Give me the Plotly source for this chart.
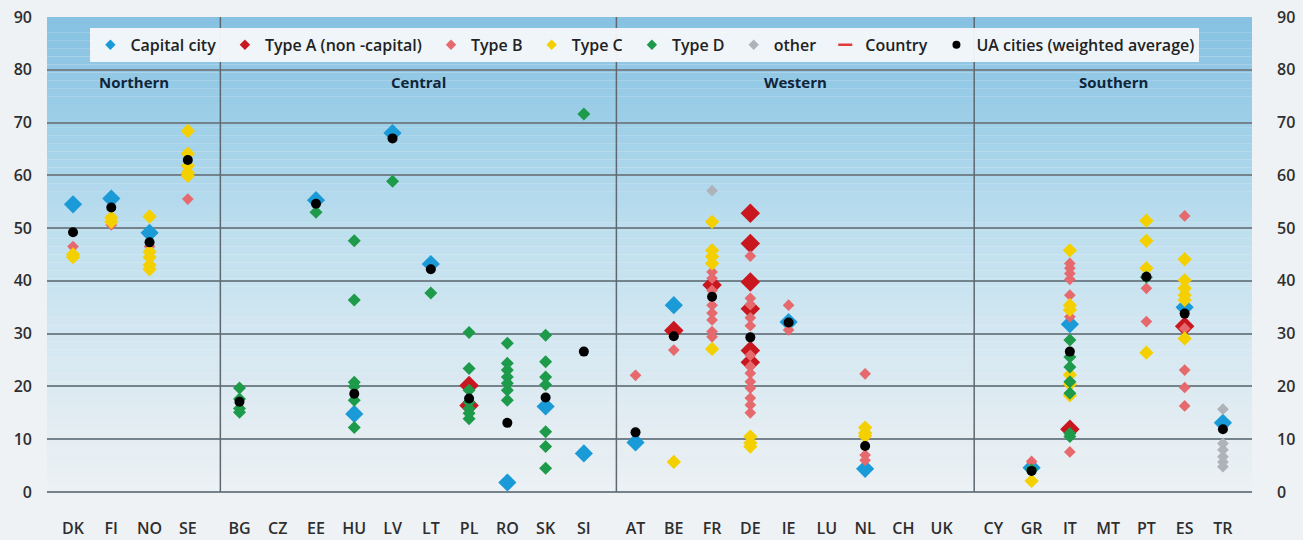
import plotly.graph_objects as go

# ---------------- data ----------------
northern = ["DK", "FI", "NO", "SE"]
central = ["BG", "CZ", "EE", "HU", "LV", "LT", "PL", "RO", "SK", "SI"]
western = ["AT", "BE", "FR", "DE", "IE", "LU", "NL", "CH", "UK"]
southern = ["CY", "GR", "IT", "MT", "PT", "ES", "TR"]
group_names = ["Northern", "Central", "Western", "Southern"]

capital_countries = ["DK", "FI", "NO", "EE", "HU", "LV", "LT", "RO", "SK", "SI",
                     "AT", "BE", "IE", "NL", "GR", "IT", "ES", "TR"]
capital_values = [54.5, 55.6, 49.1, 55.3, 14.8, 68.0, 43.2, 1.8, 16.2, 7.3,
                  9.4, 35.4, 32.2, 4.4, 4.6, 31.8, 35.0, 13.1]

typeA_countries = ["PL", "PL", "BE", "FR", "DE", "DE", "DE", "DE", "DE", "DE", "IT", "ES"]
typeA_values = [20.2, 16.4, 30.6, 39.2, 52.8, 47.1, 39.8, 34.7, 26.8, 24.6, 11.9, 31.4]

typeB_countries = ["DK", "FI", "NO", "SE", "AT", "BE",
                   "FR", "FR", "FR", "FR", "FR", "FR", "FR", "FR",
                   "DE", "DE", "DE", "DE", "DE", "DE", "DE", "DE", "DE", "DE", "DE", "DE", "DE",
                   "IE", "IE", "NL", "NL", "NL", "GR",
                   "IT", "IT", "IT", "IT", "IT", "IT", "IT",
                   "PT", "PT", "ES", "ES", "ES", "ES", "ES"]
typeB_values = [46.5, 50.6, 46.5, 55.5, 22.1, 26.9,
                41.7, 40.5, 38.2, 35.4, 33.9, 32.6, 30.4, 29.4,
                44.7, 36.7, 35.5, 33.0, 31.5, 25.9, 23.8, 22.5, 20.9, 19.7, 17.8, 16.5, 15.0,
                35.4, 30.7, 22.4, 7.0, 6.0, 5.8,
                43.3, 42.4, 41.4, 40.3, 37.3, 33.2, 7.6,
                38.6, 32.3, 52.3, 31.0, 23.1, 19.8, 16.3]

typeC_countries = ["DK", "DK", "FI", "FI", "NO", "NO", "NO", "NO", "NO",
                   "SE", "SE", "SE", "SE", "SE", "BE",
                   "FR", "FR", "FR", "FR", "FR", "DE", "DE", "DE",
                   "NL", "NL", "NL", "GR",
                   "IT", "IT", "IT", "IT", "IT", "IT",
                   "PT", "PT", "PT", "PT",
                   "ES", "ES", "ES", "ES", "ES", "ES"]
typeC_values = [44.5, 45.0, 52.0, 51.2, 52.2, 45.5, 44.5, 43.0, 42.2,
                68.4, 64.1, 61.8, 60.5, 59.9, 5.7,
                51.2, 45.8, 44.6, 43.3, 27.1, 10.5, 9.3, 8.6,
                12.2, 11.2, 10.6, 2.1,
                45.8, 35.4, 34.5, 22.2, 20.4, 18.3,
                51.4, 47.6, 42.4, 26.4,
                44.1, 40.1, 38.6, 37.3, 36.4, 29.1]

typeD_countries = ["BG", "BG", "BG", "BG", "EE",
                   "HU", "HU", "HU", "HU", "HU", "HU", "LV", "LT",
                   "PL", "PL", "PL", "PL", "PL", "PL", "PL",
                   "RO", "RO", "RO", "RO", "RO", "RO", "RO",
                   "SK", "SK", "SK", "SK", "SK", "SK", "SK", "SI", "GR",
                   "IT", "IT", "IT", "IT", "IT", "IT", "IT", "PT"]
typeD_values = [19.7, 17.6, 15.8, 15.1, 53.0,
                47.6, 36.4, 20.8, 20.0, 17.4, 12.2, 58.9, 37.7,
                30.2, 23.4, 19.3, 17.0, 15.8, 14.9, 13.9,
                28.2, 24.4, 23.1, 21.8, 20.6, 19.3, 17.4,
                29.7, 24.7, 21.8, 20.3, 11.4, 8.6, 4.5, 71.6, 4.2,
                28.8, 25.6, 23.7, 20.9, 18.7, 11.1, 10.5, 40.7]

other_countries = ["FR", "TR", "TR", "TR", "TR", "TR", "TR"]
other_values = [57.1, 15.7, 9.2, 8.0, 6.7, 5.7, 4.8]

ua_countries = ["DK", "FI", "NO", "SE", "BG", "EE", "HU", "LV", "LT", "PL", "RO", "SK",
                "SI", "AT", "BE", "FR", "DE", "IE", "NL", "GR", "IT", "PT", "ES", "TR"]
ua_values = [49.2, 53.9, 47.3, 62.9, 17.1, 54.6, 18.6, 67.0, 42.2, 17.7, 13.1, 17.9,
             26.6, 11.3, 29.5, 37.0, 29.3, 32.1, 8.7, 4.0, 26.6, 40.8, 33.8, 11.9]

y_ticks = [0, 10, 20, 30, 40, 50, 60, 70, 80, 90]

# ---------------- x layout (category index + gap between regions) ----------------
groups = [northern, central, western, southern]
GAP = 0.35
xpos = {}
group_first = []
i = 0
for g, grp in enumerate(groups):
    for j, c in enumerate(grp):
        xpos[c] = i + GAP * g
        if j == 0:
            group_first.append(xpos[c])
        i += 1
all_countries = [c for grp in groups for c in grp]
x_min = -0.68
x_max = xpos["TR"] + 0.76

def X(cs):
    return [xpos[c] for c in cs]

# ---------------- figure ----------------
FONT = "Open Sans"
BG = "#eef2f5"
fig = go.Figure()

# gradient plot background (strips)
anchors = [(0, (236, 241, 244)), (10, (229, 237, 242)), (30, (211, 231, 241)),
           (50, (189, 222, 238)), (70, (158, 207, 232)), (90, (134, 194, 226))]

def col_at(v):
    for (a, ca), (b, cb) in zip(anchors[:-1], anchors[1:]):
        if a <= v <= b:
            t = (v - a) / (b - a)
            return "rgb(%d,%d,%d)" % tuple(round(ca[k] + t * (cb[k] - ca[k])) for k in range(3))
    return "rgb(%d,%d,%d)" % anchors[-1][1]

shapes = []
step = 1.5
v = 0.0
while v < 90 - 1e-9:
    shapes.append(dict(type="rect", xref="paper", yref="y", x0=0, x1=1, y0=v, y1=min(v + step, 90),
                       fillcolor=col_at(v + step / 2), line=dict(width=0), layer="below"))
    v += step

# region separators
for g in range(1, 4):
    sx = group_first[g] - 0.5
    shapes.append(dict(type="line", xref="x", yref="y", x0=sx, x1=sx, y0=0, y1=90,
                       line=dict(color="#5d6870", width=1.5), layer="above"))

series = [
    ("Capital city", capital_countries, capital_values, "#1b9ad8", "diamond", 14),
    ("Type A (non -capital)", typeA_countries, typeA_values, "#c8171e", "diamond", 15),
    ("Type B", typeB_countries, typeB_values, "#e5696d", "diamond", 9),
    ("Type C", typeC_countries, typeC_values, "#f4d000", "diamond", 11),
    ("Type D", typeD_countries, typeD_values, "#1e9a4b", "diamond", 10),
    ("other", other_countries, other_values, "#adb3b8", "diamond", 9),
]

for name, cs, vs, color, sym, size in series:
    fig.add_trace(go.Scatter(x=X(cs), y=vs, mode="markers", name=name, showlegend=False,
                             marker=dict(color=color, symbol=sym, size=size, line=dict(width=0)),
                             hoverinfo="skip"))

fig.add_trace(go.Scatter(x=X(ua_countries), y=ua_values, mode="markers", showlegend=False,
                         name="UA cities (weighted average)", hoverinfo="skip",
                         marker=dict(color="#000000", symbol="circle", size=10)))

PAD = "\u00a0"
# legend-only entries (small symbols)
for name, cs, vs, color, sym, size in series:
    fig.add_trace(go.Scatter(x=[None], y=[None], mode="markers", name=name + PAD,
                             marker=dict(color=color, symbol=sym, size=8)))
fig.add_trace(go.Scatter(x=[None], y=[None], mode="markers", name="Country" + PAD,
                         marker=dict(symbol="line-ew-open", size=10, color="#e0393e",
                                     line=dict(color="#e0393e", width=2.5))))
fig.add_trace(go.Scatter(x=[None], y=[None], mode="markers", name="UA cities (weighted average)",
                         marker=dict(color="#000000", symbol="circle", size=8)))

# secondary trace for right axis
fig.add_trace(go.Scatter(x=[None], y=[None], yaxis="y2", showlegend=False))

# region labels
annotations = []
bounds = [x_min] + [group_first[g] - 0.5 for g in range(1, 4)] + [x_max]
for g, gname in enumerate(group_names):
    annotations.append(dict(x=(bounds[g] + bounds[g + 1]) / 2, y=77.6, xref="x", yref="y",
                            text="<b>%s</b>" % gname, showarrow=False,
                            font=dict(family=FONT, size=15, color="#10253a")))

tickfont = dict(family=FONT, size=16, color="#2e2e2e", weight=600)

fig.update_layout(
    width=1303, height=540,
    margin=dict(l=47, r=51, t=17, b=48, autoexpand=False),
    paper_bgcolor=BG,
    plot_bgcolor=BG,
    shapes=shapes,
    annotations=annotations,
    showlegend=True,
    hovermode=False,
    legend=dict(orientation="h", x=0.036, y=0.977, xanchor="left", yanchor="top",
                bgcolor="rgba(246,248,250,0.95)", borderwidth=0,
                font=dict(family=FONT, size=16, color="#222222", weight=600),
                itemclick=False, tracegroupgap=0, itemwidth=30),
    xaxis=dict(range=[x_min, x_max], tickmode="array", tickvals=X(all_countries),
               ticktext=all_countries, showgrid=False, zeroline=False, showline=False,
               ticks="", tickfont=tickfont, ticklabelstandoff=25, automargin=False),
    yaxis=dict(range=[0, 90], tickmode="array", tickvals=y_ticks, showgrid=True,
               gridcolor="#75838d", gridwidth=2, zeroline=True, zerolinecolor="#75838d",
               zerolinewidth=2, showline=False, ticks="", tickfont=tickfont,
               ticklabelstandoff=14, automargin=False),
    yaxis2=dict(range=[0, 90], tickmode="array", tickvals=y_ticks, overlaying="y",
                side="right", showgrid=False, zeroline=False, showline=False, ticks="",
                tickfont=tickfont, ticklabelstandoff=24, automargin=False),
)

post = ("document.body.style.margin='0';document.body.style.padding='0';"
        "document.body.style.background='%s';document.body.style.overflow='hidden';" % BG)
fig.write_html("out.html", post_script=post, config={"displayModeBar": False})
